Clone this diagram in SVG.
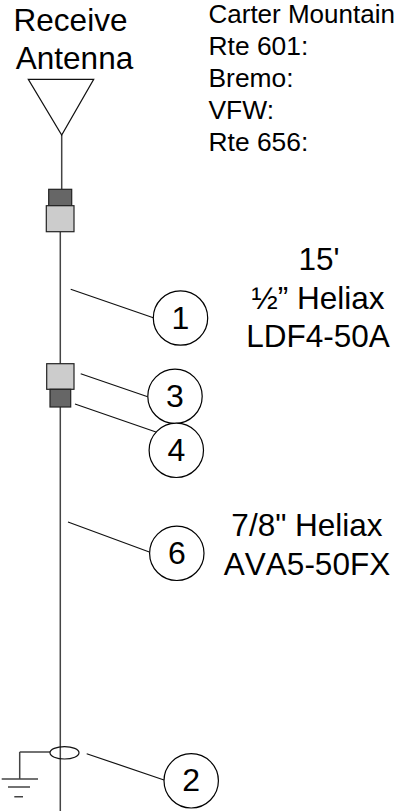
<svg xmlns="http://www.w3.org/2000/svg" width="396" height="811" viewBox="0 0 396 811">
<style>
text{font-family:"Liberation Sans",Arial,sans-serif;fill:#000}
.t{font-size:31.500px;text-anchor:middle}
.s{font-size:26.400px}
.n{font-size:32px;text-anchor:middle}
.c{fill:#fff;stroke:#000;stroke-width:1.2}
.l{fill:none;stroke:#111;stroke-width:1.2}
.f{fill:none;stroke:#444;stroke-width:1.5}
.d{fill:#666;stroke:#222;stroke-width:1.2}
.g{fill:#ccc;stroke:#222;stroke-width:1.2}
</style>
<g id="connectors">
<path class="f" d="M61.700 135V189M60.300 232V811M19.700 752V779M19.700 752H50"/>
<path class="l" d="M70.700 289.300L153.300 317.700M80.700 373.700L147.700 396.700M75 404L156.700 432.300M68 522L149.300 552M86.700 753.700L164 780"/>
</g>
<g id="antenna"><path class="l" d="M28.300 79.300H93.700L61.700 135Z"/><text class="t" x="70.500" y="31">Receive</text><text class="t" x="74.500" y="69">Antenna</text></g>
<g id="labels">
<text class="s" x="208.500" y="23" style="font-size:26px">Carter Mountain</text>
<text class="s" x="208.500" y="55">Rte 601:</text>
<text class="s" x="208.500" y="87">Bremo:</text>
<text class="s" x="208.500" y="119">VFW:</text>
<text class="s" x="208.500" y="151">Rte 656:</text>
<text class="t" x="319" y="270">15'</text>
<text class="t" x="318" y="309">½” Heliax</text>
<text class="t" x="318" y="347">LDF4-50A</text>
<text class="t" x="307" y="536">7/8" Heliax</text>
<text class="t" x="307" y="575" style="font-kerning:none">AVA5-50FX</text>
</g>
<g id="connector-top"><rect class="d" x="48.700" y="189.300" width="23" height="16.400"/><rect class="g" x="46.300" y="205.700" width="27.700" height="26"/></g>
<g id="connector-mid"><rect class="g" x="46.700" y="363.700" width="27.300" height="25.600"/><rect class="d" x="50" y="389.300" width="20.700" height="17.700"/></g>
<g id="clamp"><ellipse class="l" cx="64.500" cy="752.800" rx="14.500" ry="6.200"/></g>
<g id="ground"><path class="f" d="M1.700 779H38M8 787H30M14.300 796.700H23"/></g>
<g id="n1"><circle class="c" cx="180.500" cy="318" r="27.200"/><text class="n" x="180.500" y="328.500">1</text></g>
<g id="n3"><circle class="c" cx="175" cy="396.300" r="27.200"/><text class="n" x="175" y="406.500">3</text></g>
<g id="n4"><circle class="c" cx="176.300" cy="450.300" r="27.200"/><text class="n" x="176.300" y="460.500">4</text></g>
<g id="n6"><circle class="c" cx="176.800" cy="553.300" r="27.200"/><text class="n" x="176.800" y="563.500">6</text></g>
<g id="n2"><circle class="c" cx="191.200" cy="780.800" r="27.200"/><text class="n" x="191.200" y="790.500">2</text></g>
</svg>
